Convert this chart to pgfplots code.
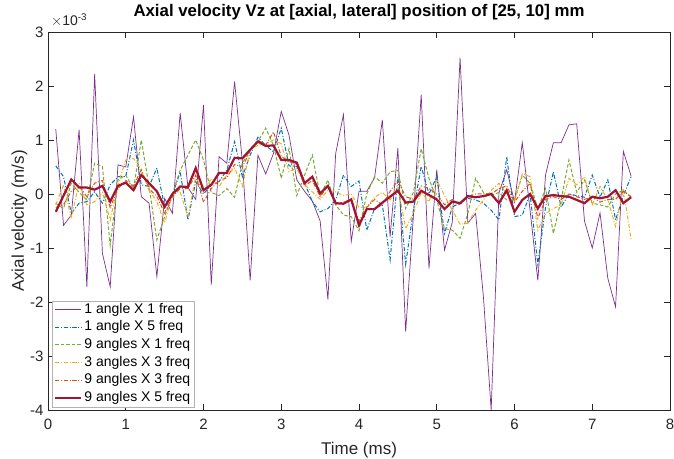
\documentclass[border=0pt]{standalone}
\usepackage{fontspec}
\setmainfont{Liberation Sans}
\usepackage{pgfplots}
\pgfplotsset{compat=1.18}
\usepackage{pgfplotstable}
\usetikzlibrary{calc}
\definecolor{mpurple}{rgb}{0.494,0.184,0.556}
\definecolor{mblue}{rgb}{0,0.447,0.741}
\definecolor{mgreen}{rgb}{0.466,0.674,0.188}
\definecolor{myellow}{rgb}{0.929,0.694,0.125}
\definecolor{morange}{rgb}{0.851,0.325,0.098}
\definecolor{mred}{rgb}{0.635,0.078,0.184}
\definecolor{axgray}{rgb}{0.15,0.15,0.15}
\pgfplotstableread{
x P B G Y O R
0.1 1.2 0.52 -0.17 -0.2 -0.25 -0.33
0.2 -0.58 0.32 -0.27 0.17 -0.2 -0.03
0.3 -0.39 -0.36 0.2 -0.45 0.05 0.27
0.4 1.19 -0.17 0.03 0.2 0.15 0.12
0.5 -1.72 -0.14 -0.11 -0.2 -0.05 0.12
0.6 2.22 0.04 0.57 -0.14 0.2 0.08
0.7 -1.1 -0.17 0.51 0.03 0.25 0.15
0.8 -1.72 0.17 -0.95 -0.48 -0.25 -0.14
0.9 0.54 0.32 0.26 0.17 0.1 0.15
1.0 0.5 0.32 0.35 0.63 0.25 0.21
1.1 1.43 1.0 0.1 0.66 0.15 0.07
1.2 -0.05 0.17 1.0 0.44 0.45 0.35
1.3 -0.17 0.14 0.14 0.07 0.1 0.2
1.4 -1.53 0.48 -0.85 -0.14 -0.05 0.05
1.5 -0.08 -0.24 -0.42 -0.54 -0.35 -0.24
1.6 -0.36 -0.03 0.0 0.0 -0.05 0.0
1.7 1.5 0.41 0.44 0.03 0.1 0.14
1.8 0.12 -0.48 0.72 -0.42 0.1 0.13
1.9 -0.1 0.23 1.0 0.32 0.35 0.48
2.0 1.65 0.0 0.63 0.03 -0.15 0.07
2.1 -1.68 0.17 0.03 0.29 0.1 0.17
2.2 0.69 0.23 -0.03 0.14 0.25 0.39
2.3 0.57 0.44 0.1 0.35 0.3 0.39
2.4 2.08 0.97 -0.06 0.48 0.55 0.67
2.5 0.6 0.32 0.57 0.14 0.5 0.66
2.6 -1.6 0.72 0.82 0.82 0.8 0.82
2.7 0.72 1.05 0.97 0.9 1.0 0.97
2.8 0.37 0.9 1.22 0.93 0.9 0.89
2.9 0.75 0.78 0.9 1.0 1.15 0.9
3.0 1.53 1.22 0.29 0.93 0.7 0.63
3.1 1.09 0.52 0.84 0.41 0.6 0.63
3.2 0.26 0.51 -0.03 0.48 0.55 0.58
3.3 0.05 0.2 0.35 0.17 0.15 0.2
3.4 -0.13 -0.14 0.72 0.04 0.25 0.32
3.5 -0.5 -0.33 -0.03 -0.1 -0.05 0.01
3.6 -1.95 -0.27 0.26 0.07 0.15 0.15
3.7 0.75 -0.11 -0.2 0.04 -0.2 -0.17
3.8 1.47 0.35 -0.39 -0.03 -0.15 -0.18
3.9 -0.88 0.14 -0.42 0.0 -0.1 -0.1
4.0 0.05 0.24 -0.68 -0.25 -0.5 -0.58
4.1 0.05 -0.67 0.0 -0.24 -0.25 -0.28
4.2 0.3 -0.27 0.32 -0.06 -0.1 -0.28
4.3 1.37 -0.2 0.2 0.03 -0.2 -0.16
4.4 -0.79 -1.22 0.41 -0.11 0.05 -0.05
4.5 0.85 0.32 0.44 0.14 0.25 0.06
4.6 -2.55 -1.3 -0.27 -0.64 -0.05 -0.16
4.7 -0.4 -0.3 0.03 -0.36 -0.1 -0.14
4.8 1.84 0.51 0.84 0.03 0.15 0.06
4.9 -1.38 0.0 0.29 -0.14 0.1 -0.02
5.0 0.45 0.32 -0.11 0.26 0.0 -0.1
5.1 -1.04 -0.73 -0.64 -0.03 -0.2 -0.28
5.2 -0.52 -0.24 -0.67 -0.3 -0.1 -0.14
5.3 2.52 -0.17 -0.82 -0.56 -0.2 -0.17
5.4 -0.54 -0.08 -0.36 -0.54 -0.05 -0.04
5.5 -0.36 -0.11 0.29 -0.3 0.0 -0.06
5.6 -1.9 -0.17 0.03 -0.11 0.0 -0.04
5.7 -4.0 -0.3 -0.03 0.07 0.0 0.0
5.8 0.02 -0.48 0.03 0.2 0.1 -0.17
5.9 0.45 0.69 -0.11 0.0 0.15 0.07
6.0 -0.15 -0.42 -0.11 -0.14 -0.15 -0.33
6.1 0.95 -0.39 0.35 0.38 0.05 -0.11
6.2 -0.3 0.0 0.2 0.32 0.2 0.0
6.3 -1.6 -1.3 -0.27 -0.67 -0.45 -0.27
6.4 0.36 -0.24 0.1 -0.36 -0.1 -0.04
6.5 0.95 0.41 -0.73 -0.27 -0.05 -0.02
6.6 0.95 -0.24 -0.1 -0.2 -0.1 -0.04
6.7 1.28 0.0 0.63 0.29 0.0 -0.05
6.8 1.3 -0.03 0.03 0.17 -0.05 -0.11
6.9 -0.5 -0.06 0.26 0.32 -0.1 -0.17
7.0 -1.0 0.35 -0.17 -0.2 -0.05 -0.05
7.1 -0.35 -0.06 -0.2 0.14 -0.15 -0.08
7.2 -1.56 0.26 -0.24 -0.11 -0.1 -0.05
7.3 -2.09 -0.48 0.0 -0.6 -0.1 0.07
7.4 0.79 -0.03 0.07 0.1 0.05 -0.17
7.5 0.33 0.32 -0.06 -0.85 -0.05 -0.06
}\datatable
\begin{document}
\begin{tikzpicture}
\begin{axis}[
  width=622pt, height=378pt, scale only axis,
  xmin=0, xmax=8, ymin=-4, ymax=3,
  xtick={0,1,...,8}, ytick={-4,-3,...,3},
  tick align=inside, major tick length=6pt,
  axis line style={draw=axgray, line width=0.6pt},
  tick style={draw=axgray, line width=0.6pt},
  /pgf/number format/assume math mode=true,
  ticklabel style={font=\fontsize{15}{15}\selectfont, text=axgray},
  xticklabel style={anchor=base, yshift=-20pt},
  yticklabel style={anchor=east, xshift=-1pt},
  title={Axial velocity Vz at [axial, lateral] position of [25, 10] mm},
  title style={font=\fontsize{16.8}{17}\selectfont\bfseries, at={(rel axis cs:0.5,1)}, anchor=base, yshift=9pt},
  xlabel={Time (ms)}, ylabel={Axial velocity (m/s)},
  label style={font=\fontsize{17}{17}\selectfont, text=axgray},
  xlabel style={at={(rel axis cs:0.5,0)}, anchor=base, yshift=-45pt},
  ylabel style={at={([xshift=-24pt]rel axis cs:0,0.5)}, anchor=base},
  legend style={at={(rel axis cs:0,0)}, anchor=south west, xshift=4pt, yshift=3pt,
    draw=black!30, fill=white, font=\fontsize{14}{14}\selectfont,
    nodes={inner ysep=1pt, text height=10.3pt, text depth=3.2pt},
    inner xsep=2pt, inner ysep=1pt, row sep=2.2pt},
  legend cell align=left,
  legend image code/.code={\draw[#1] (0pt,0pt) -- (26pt,0pt);},
  clip=true,
]
\addplot[mpurple, line width=0.7pt] table[x=x,y=P] {\datatable};
\addplot[mblue, line width=1pt, dash pattern=on 4pt off 1.8pt on 1pt off 1.8pt] table[x=x,y=B] {\datatable};
\addplot[mgreen, line width=1pt, dash pattern=on 3.5pt off 2pt] table[x=x,y=G] {\datatable};
\addplot[myellow, line width=1pt, dash pattern=on 4pt off 1.8pt on 1pt off 1.8pt] table[x=x,y=Y] {\datatable};
\addplot[morange, line width=1pt, dash pattern=on 4pt off 1.8pt on 1pt off 1.8pt] table[x=x,y=O] {\datatable};
\addplot[mred, line width=2.2pt] table[x=x,y=R] {\datatable};
\legend{1 angle X 1 freq, 1 angle X 5 freq, 9 angles X 1 freq, 3 angles X 3 freq, 9 angles X 3 freq, 9 angles X 5 freq}
\coordinate (sw) at (rel axis cs:0,0);
\coordinate (ne) at (rel axis cs:1,1);
\end{axis}
\node[anchor=base west, font=\fontsize{14}{14}\selectfont, text=axgray, inner sep=0pt] at ($(sw|-ne)+(3pt,6pt)$) {$\times$10\textsuperscript{-3}};
\pgfresetboundingbox
\path ($(sw)+(-48pt,-49pt)$) rectangle ($(ne)+(4pt,32pt)$);
\end{tikzpicture}
\end{document}
